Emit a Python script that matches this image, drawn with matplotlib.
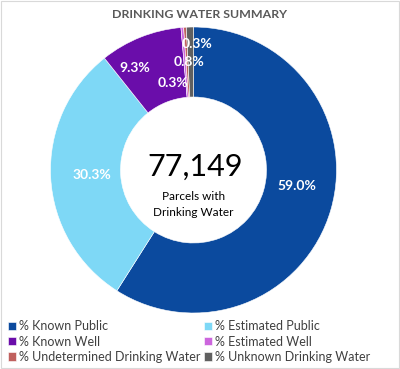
import matplotlib.pyplot as plt
from matplotlib.patches import Rectangle

# data
categories = ["% Known Public", "% Estimated Public", "% Known Well",
              "% Estimated Well", "% Undetermined Drinking Water", "% Unknown Drinking Water"]
values = [59.0, 30.3, 9.3, 0.3, 0.3, 0.8]
label_text = ["59.0%", "30.3%", "9.3%", "0.3%", "0.3%", "0.8%"]
colors = ["#0B4A9E", "#7ED8F6", "#6A0DAA", "#CC66DD", "#C0605E", "#606060"]
total_parcels = "77,149"

# label positions in image pixels (x, y from top)
label_pos = [(297, 186), (92, 175), (135, 68), (173, 83), (197, 44), (189, 62)]

plt.rcParams['font.family'] = ['Lato', 'DejaVu Sans']

H = 369
fig = plt.figure(figsize=(4, 3.69), dpi=100)
ax = fig.add_axes([0, 0, 1, 1])
wedges, _ = ax.pie(values, colors=colors, center=(193.5, H - 170), radius=143,
                   startangle=90, counterclock=False,
                   wedgeprops=dict(width=70, edgecolor="white", linewidth=0.4))
ax.set_xlim(0, 400)
ax.set_ylim(0, H)
ax.set_aspect("equal")
ax.axis("off")

for (x, y), t in zip(label_pos, label_text):
    ax.text(x, H - y, t, color="white", fontsize=10, fontweight="bold",
            ha="center", va="center")

ax.text(200, H - 15, "DRINKING WATER SUMMARY", color="#595959", fontsize=8.9,
        fontweight="bold", ha="center", va="center")
ax.text(195, H - 167, total_parcels, color="black", fontsize=22, ha="center", va="center")
ax.text(193.5, H - 197, "Parcels with", color="black", fontsize=8.5, ha="center", va="center")
ax.text(193.5, H - 213, "Drinking Water", color="black", fontsize=8.5, ha="center", va="center")

order = [0, 2, 4, 1, 3, 5]
fig.legend([wedges[i] for i in order], [categories[i] for i in order],
           ncol=2, loc="upper left", bbox_to_anchor=(0.0, 1 - 313 / H),
           frameon=False, fontsize=9, labelcolor="#404040",
           handlelength=0.65, handleheight=0.65, handletextpad=0.25,
           columnspacing=0.3, labelspacing=0.25, borderaxespad=0.2)

fig.add_artist(Rectangle((0.002, 0.002), 0.996, 0.996, transform=fig.transFigure,
                         fill=False, edgecolor="#D9D9D9", linewidth=0.8))

fig.savefig("out.png", dpi=100)
